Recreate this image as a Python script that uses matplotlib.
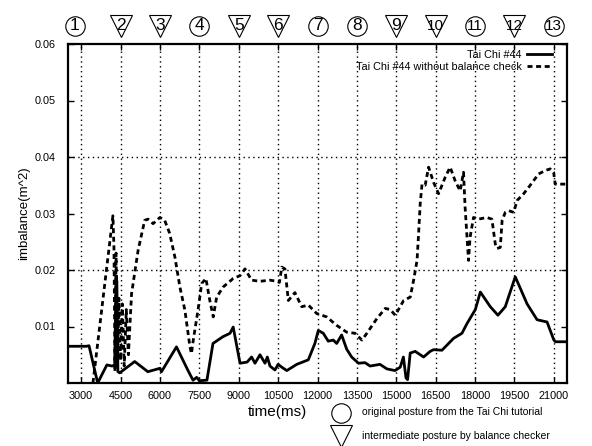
import matplotlib
matplotlib.use("Agg")
import matplotlib.pyplot as plt
import matplotlib.transforms as mtransforms
from matplotlib.lines import Line2D

plt.rcParams['font.family'] = ['Liberation Sans', 'DejaVu Sans']

# Tai Chi #44 (with balance checker)
solid_t = [2500, 3200, 3300, 3630, 3980, 4180, 4280, 4330, 4360, 4400, 4470, 5040,
           5540, 6000, 6060, 6630, 7060, 7260, 7400, 7500, 7790, 8020, 8400, 8670,
           8790, 9050, 9320, 9490, 9620, 9810, 10000, 10090, 10190, 10380, 10500,
           10640, 10830, 11210, 11650, 11900, 12030, 12220, 12410, 12600, 12730,
           12920, 13110, 13300, 13560, 13810, 14000, 14380, 14640, 14950, 15150,
           15270, 15370, 15430, 15530, 15720, 16040, 16290, 16420, 16740, 17180,
           17500, 17690, 18010, 18200, 18580, 18870, 19150, 19530, 19980, 20360,
           20740, 21000, 21060, 21500]
solid_v = [0.0065, 0.0065, 0.0066, 0.0, 0.0032, 0.003, 0.0032, 0.019, 0.018, 0.002,
           0.0018, 0.0038, 0.002, 0.0026, 0.002, 0.0064, 0.0023, 0.0005, 0.001,
           0.0004, 0.0005, 0.007, 0.0082, 0.0088, 0.0099, 0.0035, 0.0037, 0.0046,
           0.0035, 0.005, 0.0035, 0.0046, 0.003, 0.0023, 0.0033, 0.0028, 0.0022,
           0.0033, 0.0041, 0.007, 0.0093, 0.0088, 0.0074, 0.0076, 0.007, 0.0085,
           0.006, 0.0046, 0.0035, 0.0036, 0.003, 0.0033, 0.0025, 0.0022, 0.0028,
           0.0046, 0.0009, 0.0006, 0.0053, 0.0056, 0.0046, 0.0056, 0.0059, 0.0058,
           0.0079, 0.0088, 0.0105, 0.013, 0.0161, 0.0135, 0.012, 0.0135, 0.0188,
           0.014, 0.0112, 0.0108, 0.0076, 0.0073, 0.0073]

# Tai Chi #44 without balance check
dash_t = [3450, 4210, 4250, 4290, 4330, 4380, 4440, 4500, 4570, 4640, 4720,
          4800, 4920, 5170, 5420, 5550, 5740, 6000, 6180, 6370, 6570, 6760,
          6950, 7140, 7200, 7270, 7450, 7590, 7750, 7900, 8030, 8160, 8410, 8790,
          9050, 9240, 9490, 9810, 10190, 10450, 10550, 10640, 10760, 10890, 11140,
          11400, 11650, 11970, 12350, 12730, 13110, 13430, 13690, 13880, 14260,
          14580, 14770, 14960, 15280, 15530, 15660, 15790, 15850, 15910, 15980,
          16100, 16230, 16420, 16610, 16860, 17050, 17240, 17430, 17560, 17620,
          17750, 17810, 17940, 18130, 18450, 18640, 18770, 18840, 18960, 19030,
          19150, 19280, 19470, 19600, 19850, 20100, 20420, 20670, 20860, 20990,
          21050, 21500]
dash_v = [0.0, 0.0296, 0.024, 0.002, 0.023, 0.003, 0.015, 0.004, 0.014, 0.003,
          0.013, 0.005, 0.0158, 0.0235, 0.0288, 0.029, 0.0282, 0.0293,
          0.0288, 0.0265, 0.0223, 0.017, 0.0129, 0.0065, 0.0052, 0.0076, 0.0129,
          0.0176, 0.0185, 0.0146, 0.0117, 0.0152, 0.017, 0.0185, 0.019, 0.0202,
          0.0182, 0.018, 0.0182, 0.018, 0.0178, 0.0205, 0.0202, 0.0146, 0.016,
          0.0135, 0.0138, 0.0123, 0.0117, 0.0102, 0.009, 0.0088, 0.0076, 0.0088,
          0.0114, 0.0132, 0.013, 0.012, 0.0146, 0.0152, 0.0182, 0.0217, 0.0265,
          0.0317, 0.0352, 0.035, 0.0382, 0.0355, 0.0335, 0.0364, 0.0382, 0.0358,
          0.034, 0.0373, 0.0311, 0.0217, 0.0258, 0.0293, 0.029, 0.0293, 0.029,
          0.0246, 0.0238, 0.024, 0.0288, 0.0302, 0.0305, 0.0302, 0.0323, 0.0335,
          0.035, 0.037, 0.0376, 0.0379, 0.0373, 0.0352, 0.0352]

x_ticks = list(range(3000, 21001, 1500))
y_ticks = [0.01, 0.02, 0.03, 0.04, 0.05, 0.06]
y_grid = [0.02, 0.04]

# postures shown above the chart: 'o' = tutorial, 'v' = balance checker
posture_x = [2750, 4500, 6000, 7500, 9000, 10500, 12000, 13500, 15000, 16500,
             18000, 19500, 21000]
posture_kind = ['o', 'v', 'v', 'o', 'v', 'v', 'o', 'o', 'v', 'v', 'o', 'v', 'o']

fig = plt.figure(figsize=(5.92, 4.46), dpi=100)
ax = fig.add_axes([68 / 592, 1 - 383 / 446, 499 / 592, 339 / 446])

ax.plot(solid_t, solid_v, color='black', lw=2.0, label='Tai Chi #44')
ax.plot(dash_t, dash_v, color='black', lw=2.0, linestyle=(0, (1.8, 1.3)),
        label='Tai Chi #44 without balance check')

ax.set_xlim(2500, 21500)
ax.set_ylim(0, 0.06)
ax.set_xticks(x_ticks)
ax.set_yticks(y_ticks)
ax.set_yticklabels(['%.2f' % v for v in y_ticks])

dotted = (0, (1, 2.5))
for x in x_ticks:
    ax.axvline(x, color='black', lw=1, linestyle=dotted, zorder=1)
for y in y_grid:
    ax.axhline(y, color='black', lw=1, linestyle=dotted, zorder=1)

for s in ax.spines.values():
    s.set_linewidth(1.6)
ax.tick_params(direction='in', length=4, width=1, top=True, right=True,
               labelsize=7.8)
ax.tick_params(axis='x', pad=5.5)
ax.tick_params(axis='y', pad=9)
ax.set_ylabel('imbalance(m^2)', fontsize=9.5, labelpad=3)

ax.legend(loc='upper right', bbox_to_anchor=(0.979, 0.995), borderaxespad=0,
          frameon=False, markerfirst=False, fontsize=7.8, handlelength=2.3,
          handletextpad=0.5, labelspacing=0.15)

fig.text(277 / 592, 1 - 412 / 446, 'time(ms)', fontsize=11, ha='center', va='center')

# posture symbols above the plot
trans = mtransforms.blended_transform_factory(ax.transData, fig.transFigure)
for i, (px, kind) in enumerate(zip(posture_x, posture_kind)):
    ms = 14 if kind == 'o' else 16
    ax.plot([px], [1 - 26 / 446], marker=kind, ms=ms, mfc='white', mec='black',
            mew=0.8, transform=trans, clip_on=False, linestyle='none')
    num = str(i + 1)
    ax.text(px, 1 - 26 / 446, num, transform=trans, ha='center', va='center',
            fontsize=12.5 if len(num) == 1 else 11)

# symbol explanation below the x axis
fig.add_artist(Line2D([341 / 592], [1 - 413 / 446], marker='o', ms=14, mfc='white',
                      mec='black', mew=0.8, transform=fig.transFigure))
fig.add_artist(Line2D([341 / 592], [1 - 436 / 446], marker='v', ms=16, mfc='white',
                      mec='black', mew=0.8, transform=fig.transFigure))
fig.text(362 / 592, 1 - 412 / 446, 'original posture from the Tai Chi tutorial',
         fontsize=7.5, va='center')
fig.text(362 / 592, 1 - 436 / 446, 'intermediate posture by balance checker',
         fontsize=7.5, va='center')

fig.savefig('out.png', dpi=100)
